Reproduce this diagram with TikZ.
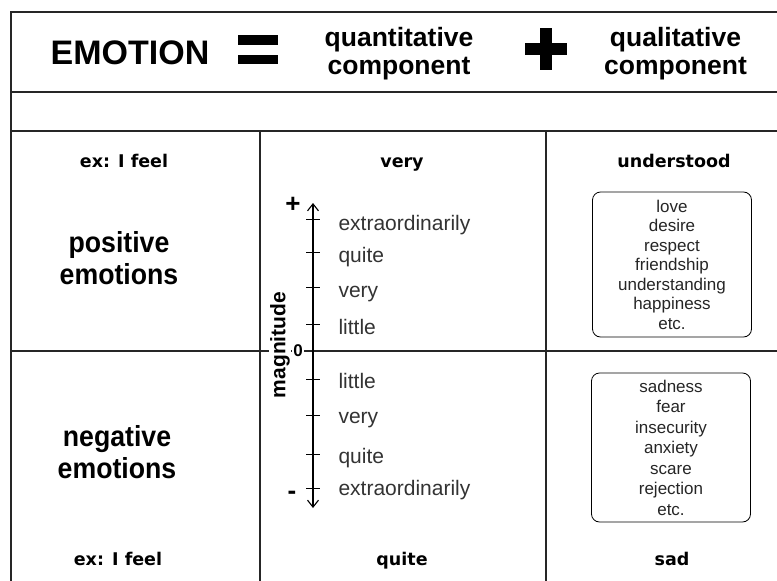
\documentclass[tikz,border=0pt]{standalone}
\usepackage{fontspec}
\setmainfont{Liberation Sans}
\newfontfamily\rowfont[FakeStretch=0.92]{Liberation Sans}
\newfontfamily\headfont{DejaVu Sans}
\usetikzlibrary{arrows.meta}

\begin{document}
\begin{tikzpicture}[
    x=1pt, y=-1pt,
    grid_line/.style={draw=black!85, line width=1.5pt},
    big_text/.style={align=center, font=\bfseries\fontsize{26.5}{28}\selectfont},
    row_text/.style={align=center, font=\rowfont\bfseries\fontsize{29}{31.5}\selectfont},
    cell_text/.style={anchor=base, font=\headfont\bfseries\fontsize{17.5}{20}\selectfont},
    tick_label/.style={anchor=base west, text=black!80, font=\fontsize{21}{24}\selectfont},
    list_box/.style={rectangle, rounded corners=8pt, draw, thick, align=center, minimum width=159pt, text=black!85, font=\fontsize{17}{19.5}\selectfont}
]
\useasboundingbox (0,0) rectangle (777,581);
\fill[white] (0,0) rectangle (777,581);

% frame and table rules
\draw[grid_line] (777,12) -- (11,12) -- (11,581);
\draw[grid_line] (11,92) -- (777,92);
\draw[grid_line] (11,131) -- (777,131);
\draw[grid_line] (11,351) -- (777,351);
\draw[grid_line] (260,131) -- (260,581);
\draw[grid_line] (546,131) -- (546,581);

% heading: emotion = quantitative + qualitative
\node[anchor=base, font=\bfseries\fontsize{34}{34}\selectfont] (emotion) at (130,64) {EMOTION};
\fill (238,35) rectangle (278,45);
\fill (238,55) rectangle (278,64);
\node[big_text] (quant) at (399,54) {quantitative\\component};
\fill (525,43) rectangle (567,55);
\fill (540,28) rectangle (552,70);
\node[big_text] (qual) at (675.5,54) {qualitative\\component};

% row texts
\node[cell_text] (feel_pos) at (124,167) {ex: I feel};
\node[cell_text] (very_top) at (402,167) {very};
\node[cell_text] (understood) at (674,167) {understood};
\node[row_text] (positive) at (119,258) {positive\\emotions};
\node[row_text] (negative) at (117,452) {negative\\emotions};
\node[cell_text] (feel_neg) at (118,565) {ex: I feel};
\node[cell_text] (quite_bot) at (402,565) {quite};
\node[cell_text] (sad) at (672,565) {sad};

% magnitude scale
\coordinate (axis_top) at (313,203);
\coordinate (axis_bot) at (313,508);
\draw[{Straight Barb[length=7pt,width=11pt]}-{Straight Barb[length=7pt,width=11pt]}, line width=1.1pt] (axis_top) -- (axis_bot);
\node[font=\bfseries\fontsize{26}{26}\selectfont] (plus) at (293,205) {+};
\node[font=\bfseries\fontsize{26}{26}\selectfont] (minus) at (292,495) {-};
\node[fill=white, inner sep=1.5pt, font=\bfseries\fontsize{17}{17}\selectfont] (zero) at (298,351) {0};
\node[rotate=90, fill=white, inner sep=1.5pt, font=\bfseries\fontsize{21}{21}\selectfont] (magnitude) at (280,345) {magnitude};
\foreach \t/\b/\word in {219/230/extraordinarily, 252/262/quite, 287/297/very, 324/334/little,
                         379/388/little, 415/423/very, 454/463/quite, 488/495/extraordinarily} {
    \draw[line width=1pt] (306,\t) -- (320,\t);
    \node[tick_label] (tick_\t) at (335,\b) {\word};
}

% example lists
\node[list_box, minimum height=145pt] (pos_list) at (672,264.5) {love\\desire\\respect\\friendship\\understanding\\happiness\\etc.};
\node[list_box, minimum height=149pt, font=\fontsize{17}{20.5}\selectfont] (neg_list) at (671,447.5) {sadness\\fear\\insecurity\\anxiety\\scare\\rejection\\etc.};
\end{tikzpicture}
\end{document}
